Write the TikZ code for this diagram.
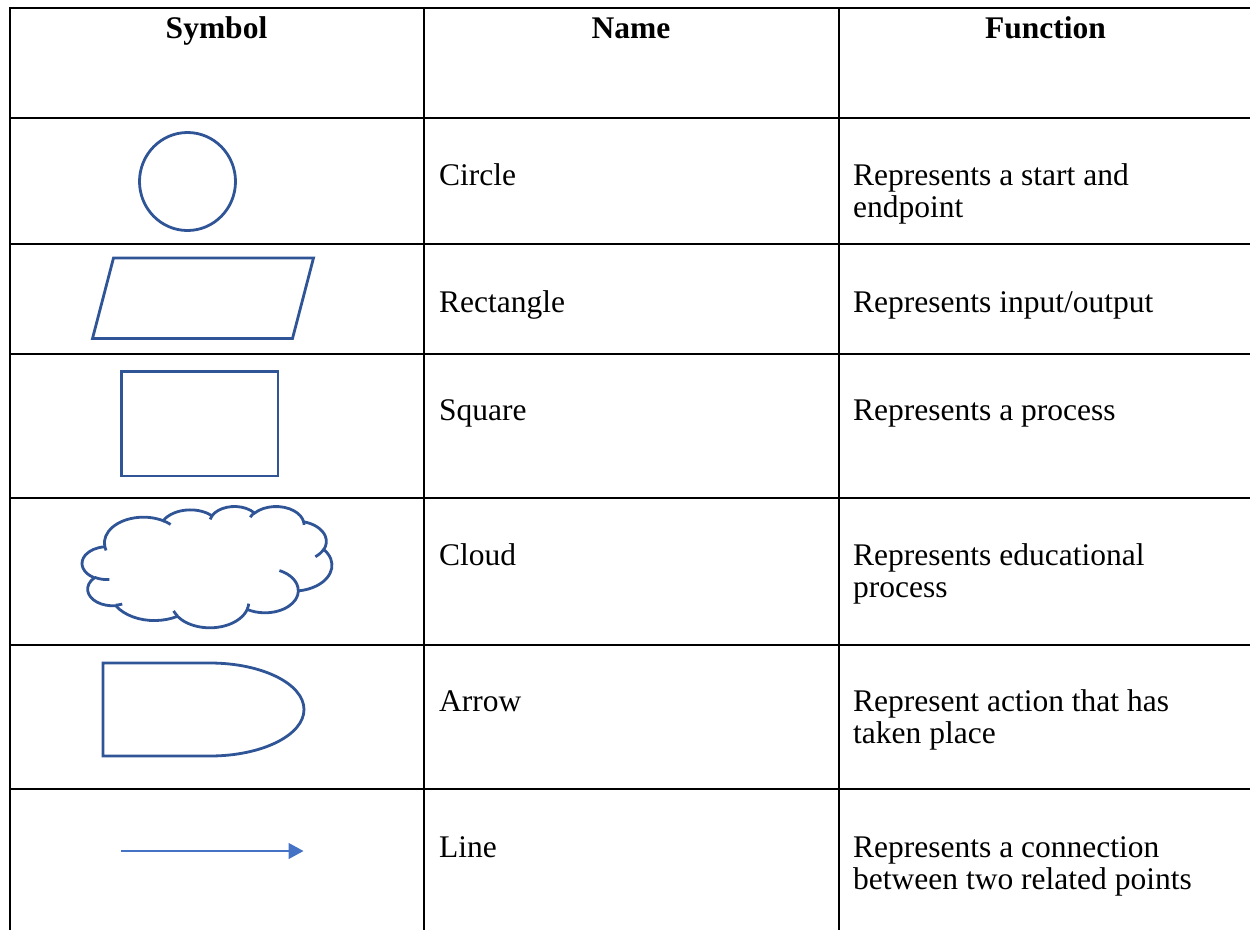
\documentclass[tikz,border=0pt]{standalone}
\usepackage{fontspec}
\setmainfont{Liberation Serif}
\usetikzlibrary{arrows.meta}

\definecolor{shapeblue}{HTML}{2F5597}
\definecolor{lineblue}{HTML}{4472C4}

% Elliptical arc given by radii and a start/sweep angle measured along the ray
% from the centre; converts them to the parametric angles used by TikZ.
\newcommand\ooarcangles[4]{%
  \pgfmathsetmacro\ooStart{atan2((#1)*sin(#3),(#2)*cos(#3))}%
  \pgfmathsetmacro\ooEnd{atan2((#1)*sin((#3)+(#4)),(#2)*cos((#3)+(#4)))}%
  \pgfmathsetmacro\ooEnd{\ooEnd<\ooStart ? \ooEnd+360 : \ooEnd}%
}

\tikzset{
  rule/.style={line width=2pt, black},
  symbol/.style={draw=shapeblue, line width=2.8pt},
  % multi-line cells sit on the baseline of their last line
  cell/.style={anchor=base west, inner sep=0pt, align=left,
               font=\fontsize{31.5}{32.5}\selectfont},
  head/.style={anchor=base, inner sep=0pt,
               font=\fontsize{31.5}{32.5}\selectfont\bfseries},
  ooarc/.code n args={4}{%
    \ooarcangles{#1}{#2}{#3}{#4}%
    \pgfkeysalso{insert path={arc[x radius=#1, y radius=#2,
      start angle=\ooStart, end angle=\ooEnd]}}%
  },
}

\begin{document}
\begin{tikzpicture}[x=1pt, y=-1pt]
\useasboundingbox (0,0) rectangle (1250,930);

% ---- table grid ----
\foreach \yy in {8,118,244,354,498,645,788.5}
  \draw[rule] (9,\yy) -- (1250,\yy);
\foreach \xx in {10,424,838.8}
  \draw[rule] (\xx,7) -- (\xx,930);

% ---- header ----
\node[head] (hSym)  at (216.5,38) {Symbol};
\node[head] (hName) at (631,38)   {Name};
\node[head] (hFunc) at (1045.5,38){Function};

% ---- names ----
\node[cell] (nCircle) at (439,185) {Circle};
\node[cell] (nRect)   at (439,312) {Rectangle};
\node[cell] (nSquare) at (439,420) {Square};
\node[cell] (nCloud)  at (439,565) {Cloud};
\node[cell] (nArrow)  at (439,711) {Arrow};
\node[cell] (nLine)   at (439,857) {Line};

% ---- functions ----
\node[cell] (fCircle) at (853,217.5) {Represents a start and\\endpoint};
\node[cell] (fRect)   at (853,312)   {Represents input/output};
\node[cell] (fSquare) at (853,420)   {Represents a process};
\node[cell] (fCloud)  at (853,597.5) {Represents educational\\process};
\node[cell] (fArrow)  at (853,743.5) {Represent action that has\\taken place};
\node[cell] (fLine)   at (853,889.5) {Represents a connection\\between two related points};

% ---- symbols ----
% circle
\draw[symbol] (187.5,181.5) ellipse [x radius=48, y radius=49];
% parallelogram
\draw[symbol] (113.5,258) -- (313.5,258) -- (292.5,338.5) -- (92.5,338.5) -- cycle;
% rectangle
\draw[symbol] (121.5,371.5) rectangle (278,476);
% cloud
\begin{scope}[shift={(82.2,506.1)}, xscale=0.5779, yscale=0.2807]
  \draw[symbol] (39.00,143.70)
    [ooarc={67.53}{91.90}{-190.4875}{123.7805}]
    [ooarc={53.33}{72.67}{-144.1024}{89.9452}]
    [ooarc={43.65}{59.45}{-145.8079}{99.7230}]
    [ooarc={48.57}{65.95}{-130.9861}{117.2417}]
    [ooarc={53.33}{72.73}{-78.7089}{109.0269}]
    [ooarc={67.75}{92.20}{-46.2673}{130.2690}]
    [ooarc={57.85}{78.67}{0.6250}{114.0333}]
    [ooarc={67.52}{92.15}{22.4516}{115.1726}]
    [ooarc={77.20}{105.43}{66.2426}{75.7110}]
    [ooarc={43.60}{59.18}{85.0579}{146.7356}]
    [ooarc={43.45}{59.45}{113.1715}{152.5189}]
    -- cycle;
  % inner creases of the cloud
  \draw[symbol]
    (46.93,261.77)  [ooarc={43.45}{59.45}{86.7420}{26.4295}]
    (69.28,348.99)  [ooarc={43.60}{59.18}{73.6105}{11.4475}]
    (164.78,390.90) [ooarc={67.52}{92.15}{137.6242}{14.0811}]
    (288.27,347.51) [ooarc={67.52}{92.15}{6.4533}{15.9984}]
    (341.29,229.54) [ooarc={57.85}{78.67}{-70.2924}{70.9174}]
    (417.98,153.54) [ooarc={53.33}{72.73}{30.3180}{27.7515}]
    (383.24,54.26)  [ooarc={48.57}{65.95}{-13.7443}{14.8589}]
    (290.78,39.52)  [ooarc={48.57}{65.95}{-149.1815}{18.1954}]
    (221.41,47.20)  [ooarc={43.65}{59.45}{-163.4943}{17.6864}]
    (140.00,51.92)  [ooarc={67.53}{91.90}{-66.7070}{12.3194}]
    (41.27,157.89)  [ooarc={67.53}{91.90}{157.6544}{11.8582}];
\end{scope}
% delay (half-rounded) box
\draw[symbol] (103,663) -- (103,756) -- (210,756)
  arc[x radius=94, y radius=46.5, start angle=90, end angle=-90] -- cycle;
% arrow line
\coordinate (lineA) at (121,851);
\coordinate (lineB) at (303.5,851);
\draw[lineblue, line width=1.4pt, -{Triangle[length=15pt, width=16pt]}] (lineA) -- (lineB);

\end{tikzpicture}
\end{document}
